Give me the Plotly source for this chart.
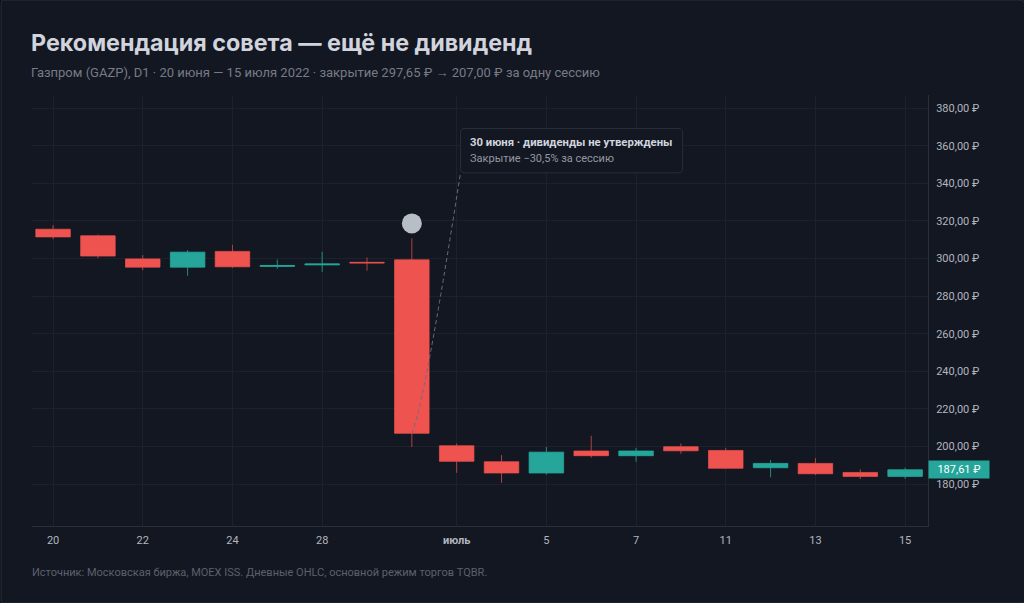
import plotly.graph_objects as go

# дневные свечи GAZP, 20.06–15.07.2022
dates = ["2022-06-20", "2022-06-21", "2022-06-22", "2022-06-23", "2022-06-24",
         "2022-06-27", "2022-06-28", "2022-06-29", "2022-06-30", "2022-07-01",
         "2022-07-04", "2022-07-05", "2022-07-06", "2022-07-07", "2022-07-08",
         "2022-07-11", "2022-07-12", "2022-07-13", "2022-07-14", "2022-07-15"]
opens = [315.6, 312.1, 299.8, 295.4, 303.8, 295.8, 296.6, 298.0, 299.3, 200.4,
         191.9, 185.9, 197.6, 195.1, 199.9, 197.9, 188.7, 191.0, 186.2, 184.1]
highs = [317.8, 312.8, 301.8, 304.5, 307.3, 299.5, 303.6, 300.6, 310.7, 201.6,
         195.4, 199.7, 205.7, 199.3, 201.6, 199.2, 192.8, 193.8, 187.8, 188.7]
lows = [310.3, 300.2, 293.8, 290.8, 295.1, 294.5, 292.9, 293.5, 199.7, 186.0,
        180.7, 185.0, 194.0, 191.9, 196.1, 188.0, 183.6, 184.8, 182.7, 182.8]
closes = [311.5, 301.3, 295.4, 303.4, 295.6, 296.3, 297.1, 297.65, 207.0, 192.1,
          185.9, 197.0, 195.1, 197.6, 197.7, 188.4, 191.0, 185.5, 184.1, 187.61]

tick_dates = ["2022-06-20", "2022-06-22", "2022-06-24", "2022-06-28", "2022-07-01",
              "2022-07-05", "2022-07-07", "2022-07-11", "2022-07-13", "2022-07-15"]
tick_labels = ["20", "22", "24", "28", "<b>июль</b>", "5", "7", "11", "13", "15"]
y_ticks = [180, 200, 220, 240, 260, 280, 300, 320, 340, 360, 380]

event_date = "2022-06-30"

BG = "#131722"
OUTER = "#0b0d12"
BORDER = "#2a2e39"
GRID = "#1d212b"
UP = "#26a69a"
DOWN = "#ef5350"
FONT = "Roboto"
TITLE_FONT = "Inter"


def rub(v):
    return f"{v:.2f} ₽".replace(".", ",")


idx = list(range(len(dates)))
ev = dates.index(event_date)
tickvals = [dates.index(d) for d in tick_dates]

fig = go.Figure()
fig.add_trace(go.Candlestick(
    x=idx, open=opens, high=highs, low=lows, close=closes,
    increasing=dict(fillcolor=UP, line=dict(color="rgba(38,166,154,0.8)", width=1)),
    decreasing=dict(fillcolor=DOWN, line=dict(color="rgba(239,83,80,0.7)", width=1)),
    hoverinfo="skip", showlegend=False,
))
# маркер события над свечой 30 июня
fig.add_trace(go.Scatter(
    x=[ev], y=[highs[ev] + 8], mode="markers",
    marker=dict(size=20, color="#b8bec6"), hoverinfo="skip", showlegend=False,
))

# карточка с закруглёнными углами
fig.add_shape(type="path", xref="paper", yref="paper", layer="below",
              path="M -0.0335,1.2204 L 1.1005,1.2204 Q 1.1105,1.2204 1.1105,1.2026 "
                   "L 1.1105,-0.1744 Q 1.1105,-0.1787 1.1005,-0.1787 L -0.0335,-0.1787 "
                   "Q -0.0345,-0.1787 -0.0345,-0.1744 L -0.0345,1.2026 Q -0.0345,1.2204 -0.0335,1.2204 Z",
              fillcolor=BG, line=dict(color=BORDER, width=1))

# выноска
bx0, bx1 = ev + 1.085, ev + 6.04
by0, by1 = 345.6, 369.2
rx, ry = 0.1, 2.2
fig.add_shape(type="path", xref="x", yref="y",
              path=(f"M {bx0 + rx},{by1} L {bx1 - rx},{by1} Q {bx1},{by1} {bx1},{by1 - ry} "
                    f"L {bx1},{by0 + ry} Q {bx1},{by0} {bx1 - rx},{by0} L {bx0 + rx},{by0} "
                    f"Q {bx0},{by0} {bx0},{by0 + ry} L {bx0},{by1 - ry} Q {bx0},{by1} {bx0 + rx},{by1} Z"),
              fillcolor=BG, line=dict(color=BORDER, width=1))
fig.add_shape(type="path", xref="x", yref="y",
              path=f"M {ev},{closes[ev]} Q {ev + 0.27},221 {bx0},{by0}",
              line=dict(color="#6a6e7a", width=1, dash="4px,3px"))
drop = (closes[ev] / closes[ev - 1] - 1) * 100
fig.add_annotation(
    x=bx0, y=by1, xref="x", yref="y", xanchor="left", yanchor="middle",
    xshift=8, yshift=-14, showarrow=False,
    text="<b>30 июня · дивиденды не утверждены</b>",
    font=dict(family=FONT, size=11.3, color="#d1d4dc"),
)
fig.add_annotation(
    x=bx0, y=by1, xref="x", yref="y", xanchor="left", yanchor="middle",
    xshift=8, yshift=-30, showarrow=False,
    text=f"Закрытие −{abs(drop):.1f}% за сессию".replace(".", ","),
    font=dict(family=FONT, size=11, color="#9598a1"),
)

# заголовки и подпись
fig.add_annotation(x=0, y=1, xref="paper", yref="paper", xanchor="left", yanchor="middle",
                   xshift=-3, yshift=53, showarrow=False,
                   text="<b>Рекомендация совета — ещё не дивиденд</b>",
                   font=dict(family=TITLE_FONT, size=23.3, color="#d1d4dc"))
fig.add_annotation(x=0, y=1, xref="paper", yref="paper", xanchor="left", yanchor="middle",
                   xshift=-3, yshift=23, showarrow=False,
                   text=(f"Газпром (GAZP), D1 · 20 июня — 15 июля 2022 · закрытие "
                         f"{rub(closes[ev - 1])} → {rub(closes[ev])} за одну сессию"),
                   font=dict(family=FONT, size=13, color="#787b86"))
fig.add_annotation(x=0, y=0, xref="paper", yref="paper", xanchor="left", yanchor="middle",
                   xshift=-2, yshift=-46, showarrow=False,
                   text="Источник: Московская биржа, MOEX ISS. Дневные OHLC, основной режим торгов TQBR.",
                   font=dict(family=FONT, size=11, color="#5d606b"))

# метка последней цены
fig.add_annotation(x=1, y=closes[-1], xref="paper", yref="y", xanchor="left", yanchor="middle",
                   showarrow=False, width=58, height=15, bgcolor=UP, align="center",
                   text=rub(closes[-1]),
                   font=dict(family=FONT, size=11, color="#ffffff"))

fig.update_layout(
    width=1024, height=603,
    margin=dict(l=32, r=96, t=95, b=77),
    paper_bgcolor=OUTER, plot_bgcolor=BG,
    boxgap=0.23, boxgroupgap=0,
    font=dict(family=FONT, size=11, color="#b2b5be"),
    xaxis=dict(range=[-0.47, 19.51], tickmode="array", tickvals=tickvals, ticktext=tick_labels,
               showgrid=True, gridcolor=GRID, zeroline=False, showline=True, linecolor=BORDER,
               ticks="", ticklabelstandoff=4, rangeslider=dict(visible=False), fixedrange=True,
               tickfont=dict(size=11, color="#b2b5be")),
    yaxis=dict(range=[157.7, 387.0], side="right", tickmode="array", tickvals=y_ticks,
               ticktext=[rub(v) for v in y_ticks], showgrid=True, gridcolor=GRID,
               zeroline=False, showline=True, linecolor=BORDER, ticks="", ticklabelstandoff=5,
               fixedrange=True, tickfont=dict(size=11, color="#b2b5be")),
)

fig.write_html("out.html", config={"displayModeBar": False},
               post_script="document.body.style.margin='0';")
